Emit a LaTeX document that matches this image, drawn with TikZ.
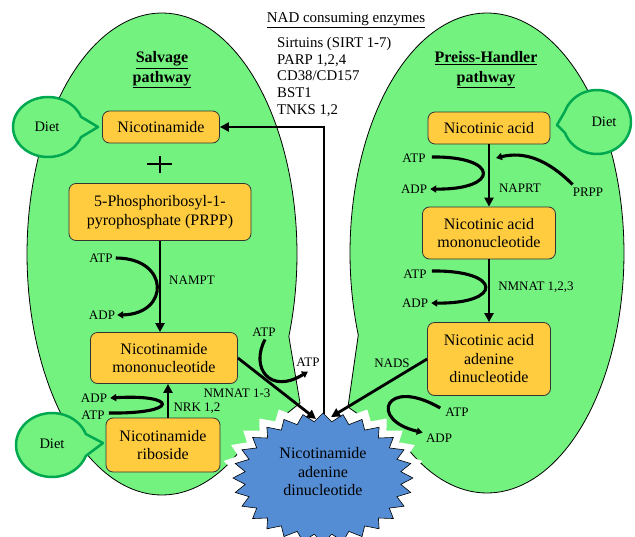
\documentclass[tikz,border=0pt]{standalone}
\usepackage{fontspec}
\setmainfont{Liberation Serif}
\usetikzlibrary{arrows.meta,calc}
\definecolor{greenfill}{RGB}{115,242,128}
\definecolor{bubbleedge}{RGB}{0,168,80}
\definecolor{boxfill}{RGB}{255,204,64}
\definecolor{starblue}{RGB}{84,141,212}
\begin{document}
\begin{tikzpicture}[x=1pt,y=-1pt,
  greenshape/.style={fill=greenfill, draw=black, line width=0.8pt},
  bubble/.style={fill=greenfill, draw=bubbleedge, line width=2.5pt, line join=round},
  box/.style={draw=black!80, fill=boxfill, rounded corners=7pt, line width=0.8pt, align=center,
    font=\fontsize{16}{18.5}\selectfont, inner sep=0pt},
  lab/.style={font=\fontsize{13}{15}\selectfont, inner sep=0pt},
  diettext/.style={font=\fontsize{14.5}{16}\selectfont, inner sep=0pt},
  arr/.style={line width=2.8pt, -{Triangle[length=9pt,width=9pt]}},
  carr/.style={line width=3.1pt, -{Triangle[length=6pt,width=7pt]}},
  title/.style={font=\fontsize{16}{20}\selectfont\bfseries, align=center, inner sep=0pt}
]
\useasboundingbox (0,0) rectangle (635,536);

% green pathway shapes
\filldraw[greenshape] plot[domain=55:380, samples=150] ({162+135*cos(\x)},{254+241*sin(\x)}) -- (300,403) -- cycle;
\filldraw[greenshape] plot[domain=-200:125, samples=150] ({487+137*cos(\x)},{253+240*sin(\x)}) -- (348,407) -- cycle;

% white backing star and NAD star
\fill[white] (425,478) \foreach \k in {0,...,27} {
   -- ({323+102*0.88*cos((\k+0.5)*12.857)},{478+76*0.88*sin((\k+0.5)*12.857)})
   -- ({323+102*cos((\k+1)*12.857)},{478+76*sin((\k+1)*12.857)}) } -- cycle;
\filldraw[fill=starblue, draw=black, line width=0.6pt] (413,478) \foreach \k in {0,...,27} {
   -- ({323+90*0.87*cos((\k+0.5)*12.857)},{478+65*0.87*sin((\k+0.5)*12.857)})
   -- ({323+90*cos((\k+1)*12.857)},{478+65*sin((\k+1)*12.857)}) } -- cycle;
\node[font=\fontsize{16}{18.5}\selectfont, align=center, inner sep=0pt] (nad) at (323,472) {Nicotinamide\\adenine\\dinucleotide};
\coordinate (nadL) at (316,419);
\coordinate (nadT) at (324,414);
\coordinate (nadR) at (331,417);

% Diet bubbles
\filldraw[bubble] plot[domain=20:340, samples=60] ({48+35*cos(\x)},{127+30*sin(\x)}) -- (98,127) -- cycle;
\filldraw[bubble] plot[domain=20:340, samples=60] ({52+36*cos(\x)},{445+32*sin(\x)}) -- (103,443) -- cycle;
\filldraw[bubble] plot[domain=200:520, samples=60] ({597+34*cos(\x)},{122+32*sin(\x)}) -- (557,125) -- cycle;
\node[diettext] (diet1) at (47,127) {Diet};
\node[diettext] (diet2) at (52,444) {Diet};
\node[diettext] (diet3) at (604,122) {Diet};

% titles
\node[title] (salv) at (162,70) {\underline{Salvage}\\\underline{pathway}};
\node[title] (preiss) at (486,70) {\underline{Preiss-Handler}\\\underline{pathway}};
\node[font=\fontsize{15}{17}\selectfont, inner sep=0pt] (enz) at (346,20) {\underline{NAD consuming enzymes}};
\node[font=\fontsize{14.8}{16.7}\selectfont, align=left, inner sep=0pt, anchor=west] (enzlist) at (277,77)
  {Sirtuins (SIRT 1-7)\\PARP 1,2,4\\CD38/CD157\\BST1\\TNKS 1,2};

% boxes
\node[box, minimum width=117pt, minimum height=32pt] (nam) at (161,127) {Nicotinamide};
\node[box, minimum width=182pt, minimum height=57pt] (prpp) at (160,212) {5-Phosphoribosyl-1-\\pyrophosphate (PRPP)};
\node[box, minimum width=147pt, minimum height=51pt] (nmn) at (164,358) {Nicotinamide\\mononucleotide};
\node[box, minimum width=114pt, minimum height=54pt] (nr) at (163,445) {Nicotinamide\\riboside};
\node[box, minimum width=122pt, minimum height=32pt] (na) at (489,128) {Nicotinic acid};
\node[box, minimum width=133pt, minimum height=52pt] (namn) at (489,233) {Nicotinic acid\\mononucleotide};
\node[box, minimum width=123pt, minimum height=73pt] (naad) at (489,359) {Nicotinic acid\\adenine\\dinucleotide};

% plus sign
\draw[line width=1.6pt] (147,164) -- (172,164) (160,156) -- (160,173);

% labels
\node[lab] (atp1) at (101,258) {ATP};
\node[lab] (adp1) at (102,315) {ADP};
\node[lab] (nampt) at (192,280) {NAMPT};
\node[lab] (adp2) at (94,398) {ADP};
\node[lab] (atp2) at (93,415) {ATP};
\node[lab] (nrk) at (197,408) {NRK 1,2};
\node[lab] (nmnat13) at (237,393) {NMNAT 1-3};
\node[lab] (atp3) at (264,332) {ATP};
\node[lab] (atp4) at (308,362) {ATP};
\node[lab] (atp6) at (414,158) {ATP};
\node[lab] (adp6) at (414,189) {ADP};
\node[lab] (naprt) at (520,188) {NAPRT};
\node[lab] (prpplab) at (588,192) {PRPP};
\node[lab] (atp7) at (415,274) {ATP};
\node[lab] (adp7) at (415,303) {ADP};
\node[lab] (nmnat123) at (536,287) {NMNAT 1,2,3};
\node[lab] (nads) at (392,363) {NADS};
\node[lab] (atp5) at (457,412) {ATP};
\node[lab] (adp5) at (439,438) {ADP};

% salvage arrows
\draw[arr] (prpp.south) -- (prpp.south |- nmn.north);
\draw[carr] (atp1.east) ++(3,0) .. controls (170,258) and (170,314) .. ($(adp1.east)+(2,0)$);
\draw[arr] ($(nr.north)+(5,0)$) -- ($(nmn.south)+(4,0)$);
\draw[carr] (atp2.east) ++(4,-2) .. controls (180,414) and (178,394) .. ($(adp2.east)+(3,0)$);
\draw[arr] (nmn.east) -- (nadL);
\draw[carr] (atp3.south) ++(1,3) .. controls (250,368) and (270,395) .. ($(atp4.south)+(0,5)$);
\draw[arr] (nadT) |- (nam.east);

% Preiss-Handler arrows
\draw[arr] (na.south) -- (namn.north);
\draw[carr] (atp6.east) ++(6,-1) .. controls (500,156) and (500,190) .. ($(adp6.east)+(3,0)$);
\draw[carr] (prpplab.north west) ++(0,-3) .. controls (548,160) and (525,151) .. (496,158);
\draw[arr] (namn.south) -- (naad.north);
\draw[carr] (atp7.east) ++(5,-3) .. controls (503,270) and (503,304) .. ($(adp7.east)+(3,0)$);
\draw[arr] (naad.west) -- (nadR);
\draw[carr] (atp5.west) ++(-5,-4) .. controls (385,376) and (368,420) .. ($(adp5.north west)+(-3,-1)$);
\end{tikzpicture}
\end{document}
